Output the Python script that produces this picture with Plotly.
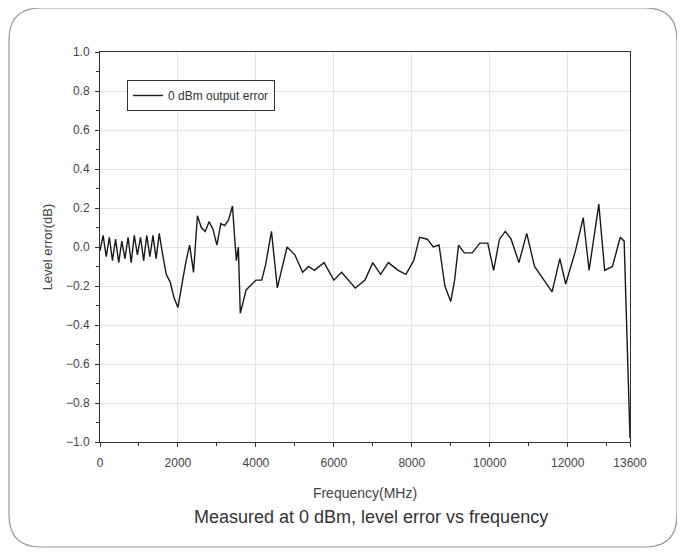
import plotly.graph_objects as go

# ---- data ----
freq_mhz = [0, 80, 160, 240, 320, 400, 480, 560, 640, 720, 800, 880, 960, 1040, 1120, 1200,
            1280, 1360, 1440, 1520,
            1600, 1700, 1800, 1900, 2000, 2100, 2200, 2300, 2400, 2500, 2600, 2700, 2800, 2900,
            3000, 3100, 3200, 3300, 3400, 3450, 3500, 3550, 3600,
            3750, 4000, 4150, 4250, 4400, 4550, 4800, 5000, 5200, 5350, 5500, 5750, 6000, 6200,
            6550, 6800, 7000, 7200, 7400, 7650, 7850, 8050, 8200, 8400, 8550, 8700, 8850, 9000,
            9100, 9200, 9350, 9550, 9750, 9950, 10100, 10250, 10400, 10550, 10750, 10950, 11150,
            11400, 11600, 11800, 11950, 12200, 12400, 12550, 12800, 12950, 13150, 13350, 13450,
            13600]
level_error_db = [-0.02, 0.06, -0.05, 0.05, -0.07, 0.04, -0.08, 0.03, -0.06, 0.05, -0.08, 0.06,
                  -0.04, 0.05, -0.07, 0.06, -0.05, 0.06, -0.06, 0.07,
                  -0.03, -0.14, -0.18, -0.26, -0.31, -0.19, -0.08, 0.01, -0.13, 0.16, 0.10, 0.08, 0.13, 0.09,
                  0.01, 0.12, 0.11, 0.14, 0.21, 0.06, -0.07, 0.00, -0.34,
                  -0.22, -0.17, -0.17, -0.09, 0.08, -0.21, 0.00, -0.04, -0.13, -0.10, -0.12, -0.08, -0.17, -0.13,
                  -0.21, -0.17, -0.08, -0.14, -0.08, -0.12, -0.14, -0.07, 0.05, 0.04, 0.00, 0.01, -0.20, -0.28,
                  -0.17, 0.01, -0.03, -0.03, 0.02, 0.02, -0.12, 0.04, 0.08, 0.04, -0.08, 0.07, -0.10,
                  -0.17, -0.23, -0.06, -0.19, -0.02, 0.15, -0.12, 0.22, -0.12, -0.10, 0.05, 0.03,
                  -0.98]
series_name = "0 dBm output error"
x_ticks = [0, 2000, 4000, 6000, 8000, 10000, 12000, 13600]
x_tick_labels = ["0", "2000", "4000", "6000", "8000", "10000", "12000", "13600"]
caption = "Measured at 0 dBm, level error vs frequency"

OFF = 8  # default page body margin
W, H = 685 - OFF, 553 - OFF
L, T = 100 - OFF, 52 - OFF
R = W - (630 - OFF)
B = H - (442 - OFF)
pw, ph = W - L - R, H - T - B
FONT = "Liberation Sans, Arial"


def px(xp):
    return (xp - OFF - L) / pw


def py(yp):
    return (H - B - (yp - OFF)) / ph


fig = go.Figure()
fig.add_trace(go.Scatter(x=freq_mhz, y=level_error_db, mode="lines", name=series_name,
                         line=dict(color="#1a1a1a", width=1.4)))

axis_common = dict(showline=True, linecolor="#333333", linewidth=1, mirror=True,
                   ticks="outside", ticklen=4, tickcolor="#333333",
                   showgrid=True, gridcolor="#e4e4e4", gridwidth=1, zeroline=False,
                   tickfont=dict(family=FONT, size=12, color="#444444"))

fig.update_xaxes(range=[0, 13600], tickvals=x_ticks, ticktext=x_tick_labels,
                 ticklabelstandoff=6,
                 minor=dict(tickvals=list(range(1000, 13600, 2000)), ticks="outside", ticklen=3,
                            tickcolor="#333333", showgrid=False),
                 title=dict(text="Frequency(MHz)", standoff=18,
                            font=dict(family=FONT, size=14, color="#444444")),
                 **axis_common)
fig.update_yaxes(range=[-1, 1], dtick=0.2, tick0=0, tickformat=".1f",
                 ticklabelstandoff=3,
                 minor=dict(dtick=0.1, ticks="outside", ticklen=3, tickcolor="#333333", showgrid=False),
                 title=dict(text="Level error(dB)", standoff=10,
                            font=dict(family=FONT, size=13, color="#444444")),
                 **axis_common)

# rounded outer frame (page pixel coords -> paper)
x0, x1 = px(9), px(677)
y0, y1 = py(547), py(8)
rx, ry = 32 / pw, 32 / ph
path = (f"M {x0 + rx},{y1} L {x1 - rx},{y1} Q {x1},{y1} {x1},{y1 - ry} "
        f"L {x1},{y0 + ry} Q {x1},{y0} {x1 - rx},{y0} "
        f"L {x0 + rx},{y0} Q {x0},{y0} {x0},{y0 + ry} "
        f"L {x0},{y1 - ry} Q {x0},{y1} {x0 + rx},{y1} Z")
fig.add_shape(type="path", path=path, xref="paper", yref="paper",
              line=dict(color="#8e99a6", width=1.2), fillcolor="rgba(0,0,0,0)", layer="below")

fig.add_annotation(text=caption, xref="paper", yref="paper", x=px(371), y=py(517),
                   showarrow=False, xanchor="center", yanchor="middle",
                   font=dict(family=FONT, size=18, color="#333333"))

fig.update_layout(
    width=W, height=H, autosize=False,
    margin=dict(l=L, r=R, t=T, b=B),
    paper_bgcolor="white", plot_bgcolor="white",
    showlegend=True,
    legend=dict(x=px(127), y=py(80), xanchor="left", yanchor="top",
                bgcolor="white", bordercolor="#333333", borderwidth=1,
                font=dict(family=FONT, size=12, color="#333333"),
                itemwidth=30, tracegroupgap=0),
)

fig.write_html("out.html")
